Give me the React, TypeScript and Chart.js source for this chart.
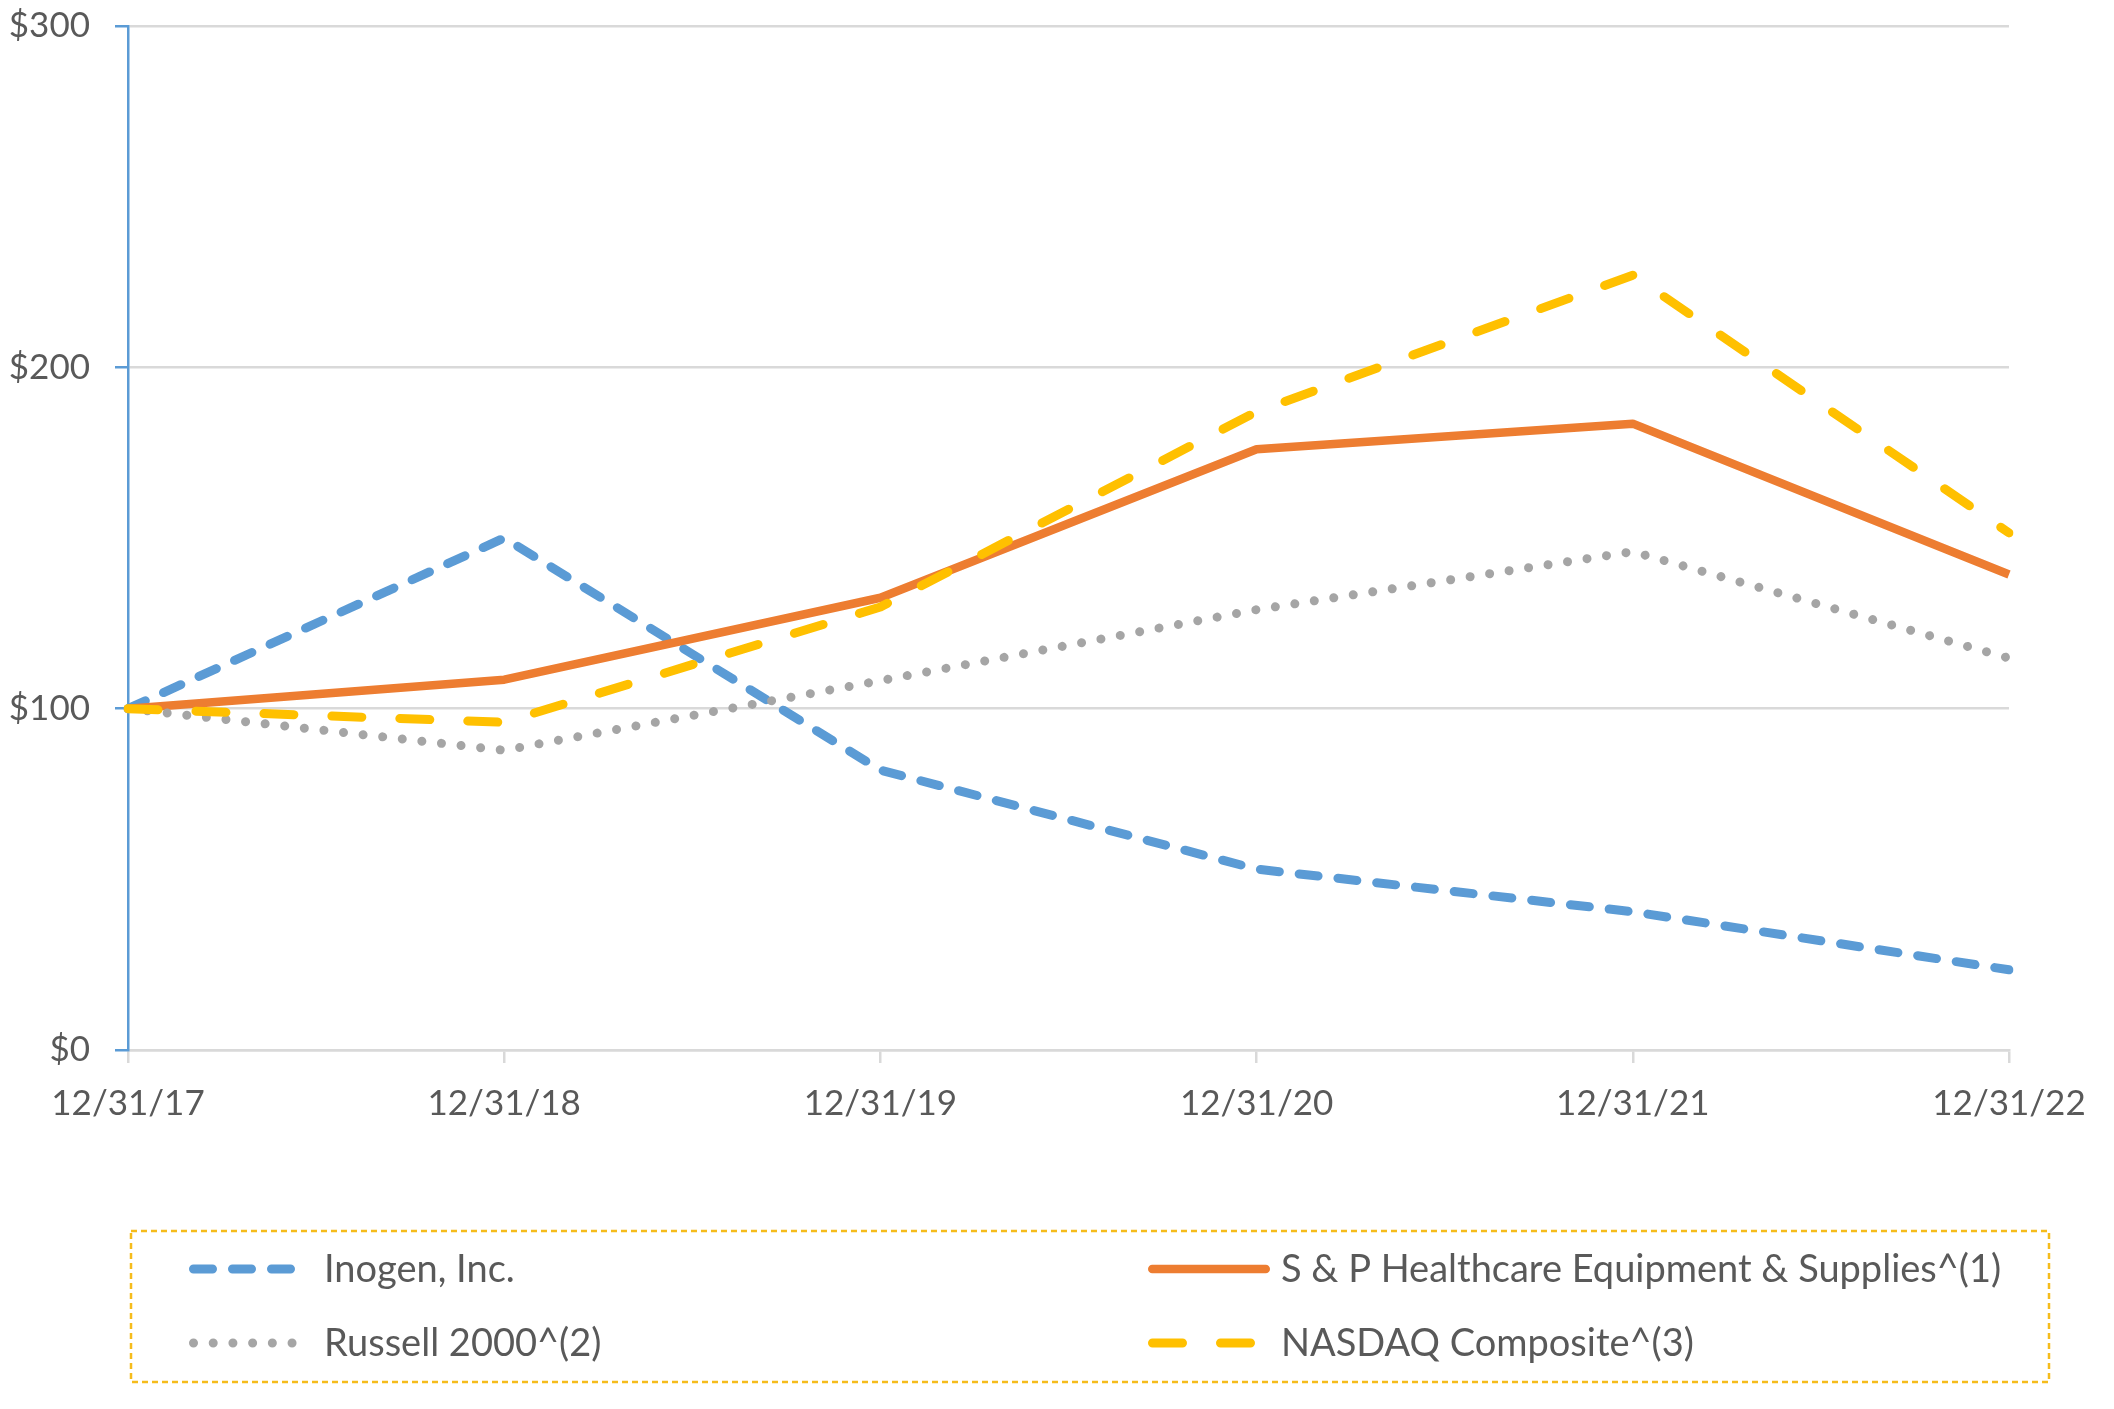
import React, { useEffect, useRef } from "react";
import { Chart, registerables } from "chart.js";

Chart.register(...registerables);

const categories = ["12/31/17", "12/31/18", "12/31/19", "12/31/20", "12/31/21", "12/31/22"];
const inogen = [100, 150, 82, 53, 40.5, 23.5];
const spHealthcare = [100, 108.5, 132.5, 176, 183.5, 139.3];
const russell2000 = [100, 87.8, 108.2, 129, 146, 114.8];
const nasdaq = [100, 96, 129.8, 187, 227, 151.5];
const yTicks = [0, 100, 200, 300];

const seriesNames = [
  "Inogen, Inc.",
  "S & P Healthcare Equipment & Supplies^(1)",
  "Russell 2000^(2)",
  "NASDAQ Composite^(3)",
];

const FONT = "Lato";
const TEXT = "#595959";

const legendPlugin = {
  id: "boxLegend",
  afterDraw(chart: any) {
    const ctx = chart.ctx as CanvasRenderingContext2D;
    ctx.save();
    ctx.strokeStyle = "#F5BC1C";
    ctx.lineWidth = 2.5;
    ctx.setLineDash([6, 4]);
    ctx.strokeRect(131, 1231, 1918, 151);

    const slots = [
      { x0: 189, x1: 297, tx: 324, y: 1269, ds: 0 },
      { x0: 1148, x1: 1270, tx: 1281, y: 1269, ds: 1 },
      { x0: 189, x1: 297, tx: 324, y: 1343, ds: 2 },
      { x0: 1148, x1: 1270, tx: 1281, y: 1343, ds: 3 },
    ];
    for (const s of slots) {
      const d = chart.data.datasets[s.ds];
      ctx.beginPath();
      ctx.strokeStyle = d.borderColor;
      ctx.lineWidth = d.borderWidth;
      ctx.lineCap = "round";
      ctx.setLineDash(d.borderDash || []);
      const half = d.borderWidth / 2;
      ctx.moveTo(s.x0 + half, s.y);
      ctx.lineTo(s.x1 - half, s.y);
      ctx.stroke();
      ctx.setLineDash([]);
      ctx.fillStyle = TEXT;
      ctx.font = `38px ${FONT}`;
      ctx.textBaseline = "middle";
      ctx.textAlign = "left";
      ctx.fillText(d.label, s.tx, s.y + 1);
    }
    ctx.restore();
  },
};

export default function App() {
  const ref = useRef<HTMLCanvasElement | null>(null);

  useEffect(() => {
    if (!ref.current) return;
    const chart = new Chart(ref.current, {
      type: "line",
      data: {
        labels: categories,
        datasets: [
          {
            label: seriesNames[0],
            data: inogen,
            borderColor: "#5B9BD5",
            borderWidth: 9,
            borderDash: [19, 20],
            borderCapStyle: "round",
            borderJoinStyle: "round",
            pointRadius: 0,
            fill: false,
            order: 3,
          },
          {
            label: seriesNames[1],
            data: spHealthcare,
            borderColor: "#ED7D31",
            borderWidth: 8.5,
            borderCapStyle: "butt",
            borderJoinStyle: "round",
            pointRadius: 0,
            fill: false,
            order: 2,
          },
          {
            label: seriesNames[2],
            data: russell2000,
            borderColor: "#A5A5A5",
            borderWidth: 9,
            borderDash: [0.01, 19.7],
            borderCapStyle: "round",
            borderJoinStyle: "round",
            pointRadius: 0,
            fill: false,
            order: 1,
          },
          {
            label: seriesNames[3],
            data: nasdaq,
            borderColor: "#FFC000",
            borderWidth: 9,
            borderDash: [30, 38],
            borderCapStyle: "round",
            borderJoinStyle: "round",
            pointRadius: 0,
            fill: false,
            order: 0,
          },
        ],
      },
      options: {
        animation: false,
        responsive: false,
        devicePixelRatio: 1,
        layout: { padding: { top: 26, right: 105, left: 0, bottom: 0 } },
        plugins: {
          legend: { display: false },
          tooltip: { enabled: false },
        },
        scales: {
          x: {
            type: "category",
            offset: false,
            grid: {
              drawOnChartArea: false,
              drawTicks: true,
              tickLength: 13,
              color: "#D9D9D9",
              lineWidth: 2.5,
            },
            border: { color: "#D9D9D9", width: 2.5 },
            ticks: {
              color: TEXT,
              font: { family: FONT, size: 35 },
              padding: 20,
              maxRotation: 0,
              autoSkip: false,
            },
            afterFit: (s: any) => {
              s.height = 359;
            },
          },
          y: {
            min: 0,
            max: 300,
            afterBuildTicks: (s: any) => {
              s.ticks = yTicks.map((v) => ({ value: v }));
            },
            grid: {
              color: "#D9D9D9",
              lineWidth: 2.5,
              tickColor: "#5B9BD5",
              tickLength: 13,
            },
            border: { color: "#5B9BD5", width: 2.5 },
            ticks: {
              color: TEXT,
              font: { family: FONT, size: 35 },
              padding: 25,
              callback: (v: any) => "$" + v,
            },
            afterFit: (s: any) => {
              s.width = 128;
              s.paddingTop = 0;
              s.paddingBottom = 0;
            },
          },
        },
      },
      plugins: [legendPlugin],
    } as any);
    return () => chart.destroy();
  }, []);

  return (
    <div style={{ position: "absolute", left: 0, top: 0, width: 2114, height: 1409, background: "#fff" }}>
      <canvas ref={ref} width={2114} height={1409} style={{ width: 2114, height: 1409, display: "block" }} />
    </div>
  );
}
